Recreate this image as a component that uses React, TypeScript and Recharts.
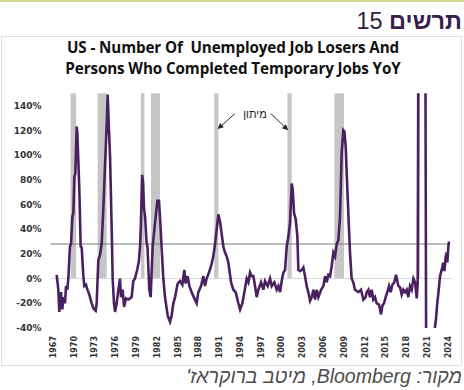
import React from 'react';
import {
  ComposedChart,
  Line,
  XAxis,
  YAxis,
  ReferenceArea,
  ReferenceLine,
  ReferenceDot,
} from 'recharts';

// YoY % change (x = fractional year)
const years = [
  1967.89, 1968.13, 1968.27, 1968.51, 1968.71, 1968.85, 1969.09, 1969.24, 1969.43, 1969.57,
  1969.81, 1969.96, 1970.15, 1970.3, 1970.44, 1970.58, 1970.78, 1970.87, 1971.06, 1971.16,
  1971.35, 1971.5, 1971.74, 1971.88, 1972.12, 1972.32, 1972.6, 1972.94, 1973.18, 1973.52,
  1973.66, 1973.9, 1974.14, 1974.38, 1974.62, 1974.86, 1975.1, 1975.25, 1975.44, 1975.59,
  1975.83, 1975.97, 1976.16, 1976.31, 1976.55, 1976.79, 1977.03, 1977.17, 1977.41, 1977.61,
  1977.89, 1978.23, 1978.47, 1978.71, 1978.95, 1979.19, 1979.5, 1979.75, 1979.92, 1980.05,
  1980.22, 1980.35, 1980.5, 1980.65, 1980.85, 1981.0, 1981.25, 1981.45, 1981.74, 1982.08,
  1982.42, 1982.65, 1982.8, 1983.04, 1983.28, 1983.52, 1983.91, 1984.24, 1984.48, 1984.72,
  1984.97, 1985.35, 1985.69, 1986.02, 1986.31, 1986.5, 1986.79, 1987.03, 1987.37, 1987.76,
  1988.09, 1988.33, 1988.72, 1989.05, 1989.29, 1989.53, 1989.87, 1990.16, 1990.49, 1990.74,
  1990.98, 1991.22, 1991.46, 1991.7, 1991.94, 1992.18, 1992.42, 1992.66, 1993.05, 1993.38,
  1993.72, 1994.1, 1994.35, 1994.68, 1994.97, 1995.31, 1995.55, 1995.79, 1996.03, 1996.27,
  1996.51, 1996.75, 1996.99, 1997.38, 1997.71, 1997.95, 1998.34, 1998.68, 1998.92, 1999.3,
  1999.64, 1999.88, 2000.12, 2000.36, 2000.6, 2000.84, 2001.08, 2001.32, 2001.56, 2001.8,
  2001.95, 2002.14, 2002.38, 2002.62, 2002.76, 2003.0, 2003.24, 2003.48, 2003.72, 2003.96,
  2004.2, 2004.45, 2004.69, 2004.93, 2005.17, 2005.41, 2005.65, 2006.04, 2006.37, 2006.61,
  2006.85, 2007.09, 2007.33, 2007.57, 2007.81, 2008.05, 2008.29, 2008.53, 2008.77, 2009.01,
  2009.25, 2009.4, 2009.59, 2009.73, 2009.97, 2010.21, 2010.45, 2010.69, 2010.93, 2011.18,
  2011.42, 2011.8, 2012.14, 2012.47, 2012.62, 2012.86, 2013.1, 2013.34, 2013.58, 2013.82,
  2014.06, 2014.4, 2014.69, 2014.88, 2015.12, 2015.36, 2015.65, 2015.84, 2016.08, 2016.32,
  2016.61, 2016.85, 2017.04, 2017.19, 2017.43, 2017.67, 2017.91, 2018.15, 2018.39, 2018.63,
  2018.87, 2019.11, 2019.36, 2019.6, 2019.84, 2019.98, 2020.13, 2020.3, 2020.6, 2020.9,
  2021.1, 2021.2, 2021.5, 2021.8, 2022.1, 2022.4, 2022.5, 2022.63, 2022.8, 2022.96,
  2023.2, 2023.44, 2023.68, 2023.83, 2024.02, 2024.16, 2024.26, 2024.4, 2024.5,
];

const yoyPct = [
  3, -9, -27, -11, -25, -15, -20, -6, -9, 0,
  26, 28, 50, 53, 82, 85, 123, 118, 88, 72,
  26, 25, 2, -6, -5, -9, -13, -20, -24, -26,
  -20, 15, 19, 28, 56, 91, 123, 149, 120, 99,
  40, 0, -20, -27, -20, -9, 0, -15, -9, -23,
  -16, -17, -16, -15, -2, 0, 7, 14, 26, 45,
  84, 78, 56, 50, 30, 25, -9, -15, 26, 45,
  63, 63, 50, 24, 0, -15, -30, -35, -30, -20,
  -15, -4, -2, -5, 7, -4, 2, -6, -11, -16,
  -20, -11, -6, 2, -6, 0, 5, 10, 18, 28,
  40, 52, 46, 36, 26, 21, 18, 13, -3, -9,
  -11, -20, -25, -20, -11, 0, -3, 5, 2, 2,
  -6, -15, -9, -3, -9, -2, -6, 0, -6, -3,
  -9, -6, -11, -2, 5, 7, 26, 34, 45, 77,
  72, 53, 48, 34, 7, 6, 7, 9, 2, -6,
  -11, -18, -15, -9, -17, -9, -15, -9, -6, 2,
  -3, 3, 2, 10, 21, 18, 28, 31, 50, 102,
  120, 119, 107, 86, 53, 21, 0, -3, -9, -10,
  -11, -9, -17, -15, -11, -9, -15, -9, -17, -15,
  -20, -21, -29, -22, -20, -15, -10, -6, -11, -5,
  -3, 3, -2, -6, -7, -13, -9, -11, -9, -15,
  -6, -9, 0, -3, -16, -3, 300, 450, 350, 220,
  160, -65, -70, -60, -50, -42, -38, -32, -20, -12,
  2, 7, 13, 6, 18, 21, 13, 26, 30,
];

const recessionStart = [1969.9, 1973.8, 1980.05, 1981.5, 1990.62, 2001.18, 2007.96, 2020.1];
const recessionEnd = [1970.7, 1975.1, 1980.55, 1982.8, 1991.22, 2001.8, 2009.35, 2020.3];

const xTickYears = [
  1967, 1970, 1973, 1976, 1979, 1982, 1985, 1988, 1991, 1994,
  1997, 2000, 2003, 2006, 2009, 2012, 2015, 2018, 2021, 2024,
];
const yTicks = [-40, -20, 0, 20, 40, 60, 80, 100, 120, 140];

const thresholdPct = 28;
const lastYear = 2024.5;

// "מיתון" note: label position and the two arrows (from -> to), in data units
const noteLabel = { x: 1996.5, y: 133, text: 'מיתון' };
const noteArrows = [
  { from: { x: 1993.6, y: 133.5 }, to: { x: 1991.1, y: 121 } },
  { from: { x: 1998.8, y: 133.5 }, to: { x: 2001.3, y: 120 } },
];

const data = years.map((year, i) => ({ year, yoy: yoyPct[i] }));

function XTick({ x, y, payload }: any) {
  return (
    <text
      transform={`translate(${x},${y}) rotate(-90)`}
      textAnchor="end"
      dominantBaseline="central"
      fontSize={8}
      fontWeight="bold"
      fill="#333"
      fontFamily="DejaVu Sans"
    >
      {Math.floor(payload.value)}
    </text>
  );
}

function Arrow(props: any) {
  const { x1, y1, x2, y2 } = props;
  const ang = Math.atan2(y2 - y1, x2 - x1);
  const len = 6;
  const w = 2.8;
  const bx = x2 - len * Math.cos(ang);
  const by = y2 - len * Math.sin(ang);
  const px = -Math.sin(ang) * w;
  const py = Math.cos(ang) * w;
  return (
    <g>
      <line x1={x1} y1={y1} x2={bx} y2={by} stroke="#222" strokeWidth={1} />
      <polygon points={`${x2},${y2} ${bx + px},${by + py} ${bx - px},${by - py}`} fill="#222" />
    </g>
  );
}

function NoteText(props: any) {
  const { cx, cy } = props;
  return (
    <text
      x={cx}
      y={cy}
      textAnchor="middle"
      dominantBaseline="central"
      fontSize={11}
      fontFamily="Liberation Sans, Arial"
      fill="#222"
    >
      {noteLabel.text}
    </text>
  );
}

export default function App() {
  return (
    <div
      style={{
        position: 'absolute',
        left: 0,
        top: 0,
        width: 464,
        height: 390,
        background: '#fff',
        fontFamily: 'Liberation Sans, Arial, sans-serif',
        overflow: 'hidden',
      }}
    >
      <div style={{ position: 'absolute', left: 0, top: 0, width: 464, height: 2, background: '#d6d98c' }} />

      <div
        dir="rtl"
        style={{
          position: 'absolute',
          right: 2,
          top: 7,
          fontSize: 23.5,
          color: '#33203f',
          whiteSpace: 'nowrap',
          lineHeight: '29px',
        }}
      >
        <span style={{ fontWeight: 'bold', color: '#3a1d4d' }}>תרשים</span> 15
      </div>

      <div
        style={{
          position: 'absolute',
          left: 1,
          top: 36,
          width: 459,
          height: 328,
          border: '1px solid #dedede',
        }}
      />

      <div
        style={{
          position: 'absolute',
          left: 0,
          top: 37,
          width: 466,
          textAlign: 'center',
          fontFamily: 'Open Sans',
          fontWeight: 'bold',
          fontSize: 15.2,
          lineHeight: '21px',
          color: '#111',
          letterSpacing: -0.1,
        }}
      >
        US - Number Of&nbsp; Unemployed Job Losers And
        <br />
        Persons Who Completed Temporary Jobs YoY
      </div>

      <div style={{ position: 'absolute', left: 0, top: 0 }}>
        <ComposedChart
          width={464}
          height={390}
          data={data}
          margin={{ top: 93.3, right: 11.5, bottom: 32, left: 8.5 }}
        >
          <XAxis
            dataKey="year"
            type="number"
            domain={[1967, 2025]}
            allowDataOverflow
            ticks={xTickYears.map((y) => y + 0.4)}
            interval={0}
            tick={<XTick />}
            axisLine={false}
            tickLine={false}
            height={30}
          />
          <YAxis
            type="number"
            domain={[-40, 150]}
            allowDataOverflow
            ticks={yTicks}
            interval={0}
            tickFormatter={(v: number) => `${v}%`}
            tick={{ fontSize: 9, fontWeight: 'bold', fill: '#333', fontFamily: 'DejaVu Sans' }}
            axisLine={false}
            tickLine={false}
            tickMargin={3}
            width={42}
          />

          {/* recession bands */}
          {recessionStart.map((s, i) => (
            <ReferenceArea
              key={s}
              x1={s}
              x2={recessionEnd[i]}
              y1={0}
              y2={150}
              fill="#c6c6c6"
              fillOpacity={1}
              stroke="none"
            />
          ))}

          <ReferenceLine y={0} stroke="#d6d6d6" strokeWidth={1} />
          <ReferenceLine
            segment={[
              { x: 1967, y: thresholdPct },
              { x: lastYear, y: thresholdPct },
            ]}
            stroke="#7a7a7a"
            strokeWidth={1}
          />

          <Line
            type="linear"
            dataKey="yoy"
            stroke="#4a2160"
            strokeWidth={2.6}
            dot={false}
            isAnimationActive={false}
          />

          {noteArrows.map((a, i) => (
            <ReferenceLine key={i} segment={[a.from, a.to]} shape={<Arrow />} ifOverflow="visible" />
          ))}
          <ReferenceDot x={noteLabel.x} y={noteLabel.y} r={0} shape={<NoteText />} ifOverflow="visible" />
        </ComposedChart>
      </div>

      <div
        dir="rtl"
        style={{
          position: 'absolute',
          right: 2,
          top: 364,
          fontSize: 19.5,
          fontStyle: 'italic',
          color: '#4d4d4d',
          whiteSpace: 'nowrap',
          lineHeight: '25px',
        }}
      >
        מקור: Bloomberg, מיטב ברוקראז'
      </div>
    </div>
  );
}
